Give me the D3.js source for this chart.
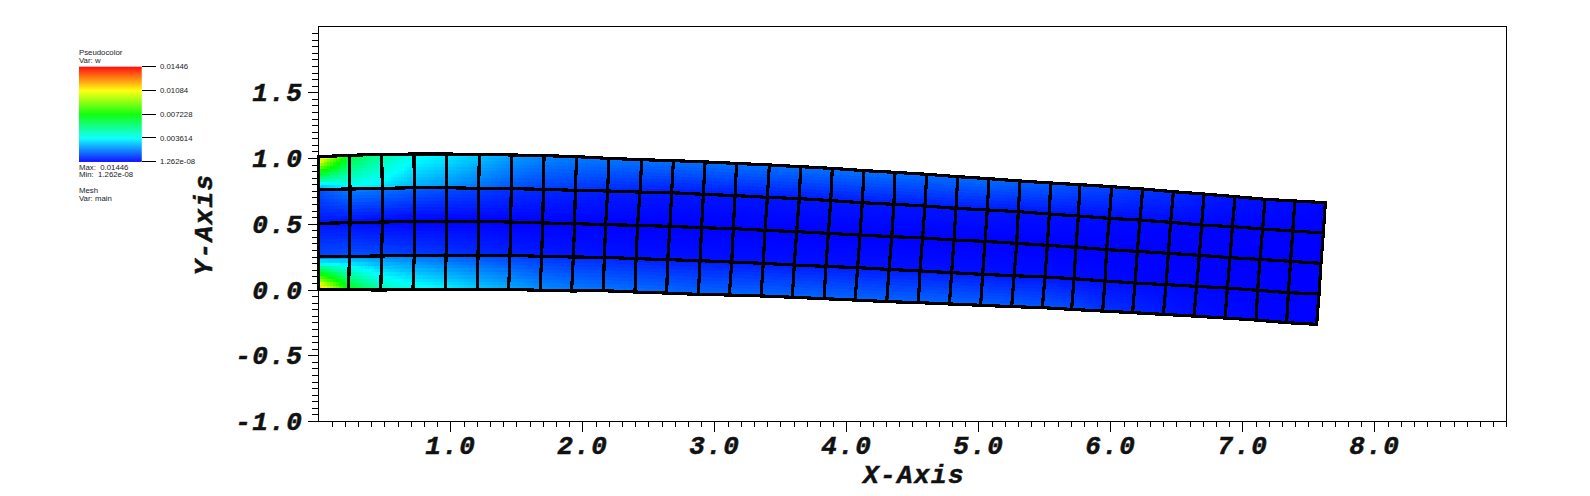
<!DOCTYPE html>
<html><head><meta charset="utf-8">
<script src="https://cdn.jsdelivr.net/npm/d3@7"></script>
<style>html,body{margin:0;padding:0;background:#fff;overflow:hidden}svg{display:block}
.big{font-family:"Liberation Mono",monospace;font-weight:bold;font-style:italic;font-size:26px;letter-spacing:1.4px;fill:#111;stroke:#111;stroke-width:.5px}
.small{font-family:"Liberation Sans",sans-serif;font-size:7.8px;fill:#222}</style>
</head><body><svg id="c" width="1590" height="496"></svg>
<script>
// mesh node positions (data units), 33 columns x 5 rows
const meshX0=[0,.235,.480,.725,.973,1.220,1.465,1.710,1.957,2.202,2.450,2.690,2.930,3.169,3.417,3.654,3.894,4.134,4.369,4.609,4.844,5.081,5.316,5.548,5.770,6.010,6.245,6.478,6.710,6.945,7.172,7.399,7.629];
const meshY0=[1.010,1.020,1.028,1.030,1.030,1.028,1.023,1.018,1.010,.997,.987,.980,.970,.959,.947,.934,.921,.904,.891,.876,.858,.843,.825,.810,.797,.782,.764,.744,.726,.706,.686,.673,.660];
const meshX1=[0,.240,.485,.727,.973,1.215,1.462,1.705,1.947,2.192,2.437,2.677,2.917,3.157,3.402,3.644,3.882,4.121,4.361,4.596,4.831,5.068,5.303,5.538,5.758,5.993,6.225,6.457,6.692,6.925,7.154,7.382,7.614];
const meshY1=[.762,.764,.769,.774,.774,.769,.767,.762,.754,.749,.741,.736,.724,.714,.701,.691,.676,.660,.648,.635,.617,.605,.592,.574,.559,.541,.528,.511,.490,.478,.460,.445,.430];
const meshX2=[0,.240,.485,.727,.973,1.215,1.457,1.700,1.942,2.177,2.419,2.664,2.904,3.144,3.384,3.624,3.864,4.104,4.344,4.578,4.816,5.051,5.291,5.523,5.740,5.972,6.205,6.440,6.675,6.907,7.134,7.366,7.596];
const meshY2=[.503,.508,.513,.518,.518,.518,.513,.506,.501,.493,.488,.480,.470,.463,.450,.440,.427,.414,.402,.392,.376,.366,.351,.336,.321,.303,.290,.275,.260,.242,.229,.214,.199];
const meshX3=[0,.235,.480,.727,.968,1.210,1.452,1.692,1.932,2.167,2.407,2.647,2.892,3.132,3.371,3.606,3.846,4.086,4.324,4.558,4.798,5.033,5.271,5.505,5.725,5.960,6.187,6.422,6.654,6.887,7.116,7.349,7.581];
const meshY3=[.250,.252,.255,.260,.260,.260,.260,.252,.247,.245,.235,.227,.219,.209,.199,.186,.176,.166,.153,.141,.128,.115,.105,.095,.082,.065,.049,.037,.024,.011,-.006,-.024,-.034];
const meshX4=[0,.230,.473,.717,.962,1.205,1.442,1.680,1.919,2.159,2.399,2.639,2.879,3.114,3.354,3.591,3.831,4.066,4.306,4.546,4.781,5.018,5.253,5.485,5.707,5.942,6.169,6.402,6.634,6.869,7.104,7.336,7.563];
const meshY4=[.001,-.001,-.004,.001,.001,.001,.001,-.006,-.011,-.009,-.019,-.027,-.037,-.042,-.049,-.059,-.070,-.080,-.092,-.100,-.110,-.120,-.130,-.138,-.151,-.164,-.176,-.189,-.202,-.217,-.232,-.252,-.265];
// field value along each band's upper and lower edge, as a fraction of the maximum
const band0Top=[.85,.46,.35,.27,.24,.20,.16,.135,.125,.12,.115,.115,.115,.115,.115,.115,.115,.115,.115,.11,.11,.11,.10,.095,.08,.07,.055,.045,.03,.02,.015,.01,.005];
const band0Bot=[.15,.24,.22,.17,.14,.11,.08,.06,.05,.04,.03,.025,.025,.025,.025,.025,.025,.025,.025,.025,.025,.025,.02,.02,.015,.012,.01,.008,.005,.003,.002,.001,0];
const band1Top=[.08,.13,.12,.10,.08,.065,.05,.04,.035,.03,.025,.02,.02,.02,.02,.02,.02,.02,.02,.02,.02,.02,.015,.015,.012,.01,.008,.006,.004,.002,.001,0,0];
const band1Bot=[.02,.01,.005,0,0,0,0,0,0,0,0,0,0,0,0,0,0,0,0,0,0,0,0,0,0,0,0,0,0,0,0,0,0];
const band2Top=[.02,.01,.005,0,0,0,0,0,0,0,0,0,0,0,0,0,0,0,0,0,0,0,0,0,0,0,0,0,0,0,0,0,0];
const band2Bot=[.07,.08,.07,.06,.05,.04,.03,.025,.02,.018,.015,.015,.015,.015,.015,.015,.015,.015,.015,.015,.015,.015,.012,.012,.01,.008,.006,.004,.003,.002,.001,0,0];
const band3Top=[.10,.14,.13,.11,.09,.075,.06,.05,.04,.035,.03,.025,.025,.025,.025,.025,.025,.025,.025,.025,.025,.025,.02,.02,.015,.012,.01,.008,.005,.003,.002,.001,0];
const band3Bot=[.85,.50,.33,.27,.24,.20,.17,.14,.125,.115,.11,.105,.10,.10,.10,.10,.10,.10,.10,.10,.10,.095,.09,.085,.075,.05,.04,.025,.015,.01,.005,.005,0];
const colorStops=["#0000ff","#00ffff","#00ff00","#ffff00","#ff0000"];
const xMajor=[1,2,3,4,5,6,7,8], yMajor=[-1,-.5,0,.5,1,1.5];
const legendTicks=["1.262e-08","0.003614","0.007228","0.01084","0.01446"];
const legendFracs=[0,.25,.5,.75,1];
const legendLines=[["Pseudocolor",54.5],["Var: w",62.5],["Max:  0.01446",169.7],["Min:  1.262e-08",177.2],["Mesh",193],["Var: main",201]];

const svg=d3.select("#c");
const x=d3.scaleLinear().domain([0,9]).range([318.3,1506.3]);
const y=d3.scaleLinear().domain([-1,2]).range([421,26.5]);
const col=d3.scaleLinear().domain(legendFracs).range(colorStops).clamp(true);
const mX=[meshX0,meshX1,meshX2,meshX3,meshX4],mY=[meshY0,meshY1,meshY2,meshY3,meshY4];
const WT=[band0Top,band1Top,band2Top,band3Top],WB=[band0Bot,band1Bot,band2Bot,band3Bot];

// field: each mesh cell split into small quads
const N=10, quads=[];
const bil=(a,b,c,d,u,v)=>(a*(1-u)+b*u)*(1-v)+(c*(1-u)+d*u)*v;
for(let r=0;r<4;r++)for(let i=0;i<32;i++){
  const P=(u,v)=>[x(bil(mX[r][i],mX[r][i+1],mX[r+1][i],mX[r+1][i+1],u,v)),y(bil(mY[r][i],mY[r][i+1],mY[r+1][i],mY[r+1][i+1],u,v))];
  for(let a=0;a<N;a++)for(let b=0;b<N;b++){
    const u0=a/N,u1=(a+1)/N,v0=b/N,v1=(b+1)/N;
    quads.push({p:[P(u0,v0),P(u1,v0),P(u1,v1),P(u0,v1)],w:bil(WT[r][i],WT[r][i+1],WB[r][i],WB[r][i+1],(u0+u1)/2,(v0+v1)/2)});
  }
}
svg.append("g").attr("shape-rendering","crispEdges").selectAll("path").data(quads).join("path")
  .attr("d",d=>"M"+d.p.join("L")+"Z").attr("fill",d=>col(d.w)).attr("stroke",d=>col(d.w)).attr("stroke-width",1);

// mesh lines
const line=d3.line();
const g=svg.append("g").attr("fill","none").attr("stroke","#000").attr("stroke-width",3.2)
  .attr("stroke-linejoin","round").attr("stroke-linecap","square").attr("shape-rendering","crispEdges");
for(let r=0;r<5;r++) g.append("path").attr("d",line(mX[r].map((v,i)=>[x(v),y(mY[r][i])])));
for(let i=0;i<33;i++) g.append("path").attr("d",line(mX.map((row,r)=>[x(row[i]),y(mY[r][i])])));

// frame
svg.append("rect").attr("x",x(0)).attr("y",y(2)).attr("width",x(9)-x(0)).attr("height",y(-1)-y(2))
  .attr("fill","none").attr("stroke","#000").attr("stroke-width",1).attr("shape-rendering","crispEdges");

// axes
const xMinor=d3.range(1,91).map(d=>d/10).filter(d=>!xMajor.some(m=>Math.abs(m-d)<1e-6));
const yMinor=d3.range(-19,40).map(d=>d/20).filter(d=>!yMajor.some(m=>Math.abs(m-d)<1e-6));
const style=s=>{s.select(".domain").remove();s.selectAll("line").attr("stroke","#000").attr("shape-rendering","crispEdges");};
svg.append("g").attr("transform",`translate(0,${y(-1)})`).call(d3.axisBottom(x).tickValues(xMinor).tickSize(6).tickFormat("")).call(style);
svg.append("g").attr("transform",`translate(${x(0)},0)`).call(d3.axisLeft(y).tickValues(yMinor).tickSize(6).tickFormat("")).call(style);
const xa=svg.append("g").attr("transform",`translate(0,${y(-1)})`).call(d3.axisBottom(x).tickValues(xMajor).tickSize(10.5).tickPadding(0).tickFormat(d3.format(".1f"))).call(style);
xa.selectAll("text").attr("class","big").attr("y",0).attr("dy",null).attr("transform","translate(0,32.5)");
const ya=svg.append("g").attr("transform",`translate(${x(0)},0)`).call(d3.axisLeft(y).tickValues(yMajor).tickSize(10.5).tickFormat(d=>d3.format(".1f")(d).replace("−","-"))).call(style);
ya.selectAll("text").attr("class","big").attr("x",-15).attr("dy",null).attr("y",8.5);
svg.append("text").attr("class","big").attr("x",914).attr("y",483).attr("text-anchor","middle").text("X-Axis");
svg.append("text").attr("class","big").attr("transform","translate(212,224.5) rotate(-90)").attr("text-anchor","middle").text("Y-Axis");

// legend
const lb=d3.scaleLinear().domain([0,1]).range([161.7,66.7]);
svg.append("g").selectAll("rect").data(d3.range(0,95)).join("rect")
  .attr("x",79).attr("width",62.7).attr("y",d=>lb((d+1)/95)).attr("height",1.2).attr("fill",d=>col((d+.5)/95));
const lg=svg.append("g");
legendFracs.forEach((f,i)=>{
  lg.append("line").attr("x1",141.7).attr("x2",156).attr("y1",lb(f)).attr("y2",lb(f)).attr("stroke","#000").attr("shape-rendering","crispEdges");
  lg.append("text").attr("class","small").attr("x",160).attr("y",lb(f)+2.6).text(legendTicks[i]);
});
legendLines.forEach(([t,yy])=>lg.append("text").attr("class","small").attr("x",79).attr("y",yy).style("white-space","pre").text(t));
</script></body></html>
